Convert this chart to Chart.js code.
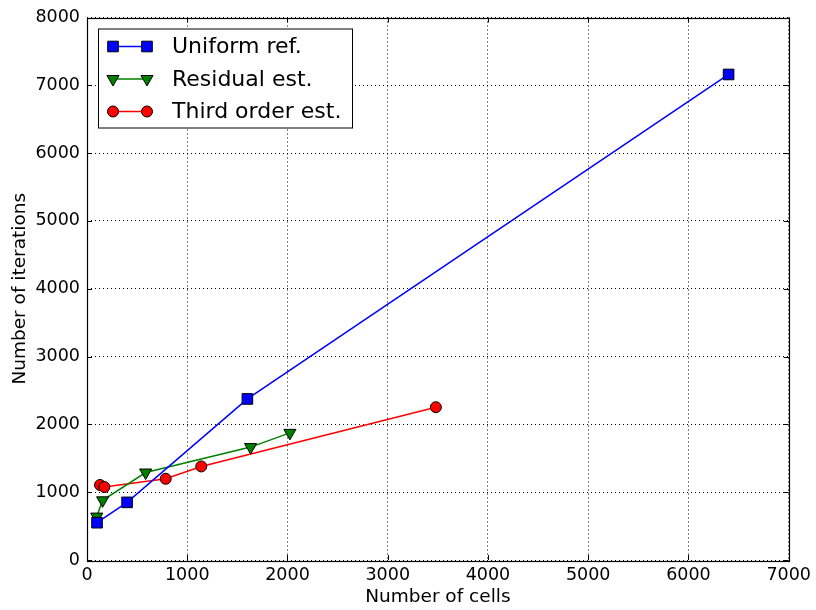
<!DOCTYPE html>
<html>
<head>
<meta charset="utf-8">
<script src="https://cdn.jsdelivr.net/npm/chart.js@4/dist/chart.umd.min.js"></script>
<style>
  html, body { margin: 0; padding: 0; background: #ffffff; }
  #wrap { width: 816px; height: 610px; }
</style>
</head>
<body>
<div id="wrap"><canvas id="c" width="816" height="610"></canvas></div>
<script>
// Iteration counts versus mesh size for three refinement strategies
const uniformCells  = [100, 400, 1600, 6400];
const uniformIters  = [550, 850, 2375, 7160];

const residualCells = [97, 156, 585, 1632, 2024];
const residualIters = [640, 880, 1290, 1665, 1875];

const thirdCells    = [130, 173, 785, 1140, 3480];
const thirdIters    = [1106, 1076, 1198, 1380, 2253];

const seriesNames = ['Uniform ref.', 'Residual est.', 'Third order est.'];
const xTickValues = [0, 1000, 2000, 3000, 4000, 5000, 6000, 7000];
const yTickValues = [0, 1000, 2000, 3000, 4000, 5000, 6000, 7000, 8000];

const toPoints = (xs, ys) => xs.map((x, i) => ({ x: x, y: ys[i] }));

const FONT = 'DejaVu Sans';

// Inward tick marks on all four sides plus the black frame
const framePlugin = {
  id: 'frame',
  afterDatasetsDraw(chart) {
    const { ctx, chartArea: a, scales } = chart;
    const len = 5;
    ctx.save();
    ctx.strokeStyle = '#000';
    ctx.lineWidth = 1;
    ctx.beginPath();
    xTickValues.forEach(v => {
      const px = Math.round(scales.x.getPixelForValue(v)) + 0.5;
      ctx.moveTo(px, a.bottom); ctx.lineTo(px, a.bottom - len);
      ctx.moveTo(px, a.top); ctx.lineTo(px, a.top + len);
    });
    yTickValues.forEach(v => {
      const py = Math.round(scales.y.getPixelForValue(v)) + 0.5;
      ctx.moveTo(a.left, py); ctx.lineTo(a.left + len, py);
      ctx.moveTo(a.right, py); ctx.lineTo(a.right - len, py);
    });
    ctx.stroke();
    ctx.lineWidth = 1.2;
    ctx.strokeRect(Math.round(a.left) + 0.5, Math.round(a.top) + 0.5,
                   Math.round(a.right - a.left), Math.round(a.bottom - a.top));
    ctx.restore();
  }
};

// Legend with a line sample and a marker at each end
const legendPlugin = {
  id: 'lineLegend',
  afterDraw(chart) {
    const { ctx, chartArea: a } = chart;
    const bx = a.left + 11, by = a.top + 11, bw = 254, bh = 99;
    ctx.save();
    ctx.fillStyle = '#fff';
    ctx.fillRect(bx, by, bw, bh);
    ctx.strokeStyle = '#000';
    ctx.lineWidth = 1;
    ctx.strokeRect(bx + 0.5, by + 0.5, bw, bh);
    chart.data.datasets.forEach((ds, i) => {
      const y = by + 18 + i * 32.5;
      const x1 = bx + 15, x2 = bx + 49;
      ctx.strokeStyle = ds.borderColor;
      ctx.lineWidth = ds.borderWidth;
      ctx.beginPath(); ctx.moveTo(x1, y); ctx.lineTo(x2, y); ctx.stroke();
      const opts = { pointStyle: ds.pointStyle, rotation: ds.pointRotation || 0,
                     radius: ds.pointRadius, borderWidth: ds.pointBorderWidth };
      ctx.fillStyle = ds.pointBackgroundColor;
      ctx.strokeStyle = ds.pointBorderColor;
      ctx.lineWidth = ds.pointBorderWidth;
      Chart.helpers.drawPoint(ctx, opts, x1, y);
      Chart.helpers.drawPoint(ctx, opts, x2, y);
      ctx.fillStyle = '#000';
      ctx.font = '22px "' + FONT + '"';
      ctx.textBaseline = 'middle';
      ctx.textAlign = 'left';
      ctx.fillText(ds.label, bx + 74, y + 1);
    });
    ctx.restore();
  }
};

new Chart(document.getElementById('c'), {
  type: 'line',
  data: {
    datasets: [
      {
        label: seriesNames[0],
        data: toPoints(uniformCells, uniformIters),
        borderColor: '#0000ff', borderWidth: 1.5,
        pointStyle: 'rect', pointRadius: 7.5, pointHoverRadius: 7.5,
        pointBackgroundColor: '#0000ff', pointBorderColor: '#000', pointBorderWidth: 1,
        clip: false
      },
      {
        label: seriesNames[1],
        data: toPoints(residualCells, residualIters),
        borderColor: '#008000', borderWidth: 1.5,
        pointStyle: 'triangle', pointRotation: 180, pointRadius: 7, pointHoverRadius: 7,
        pointBackgroundColor: '#008000', pointBorderColor: '#000', pointBorderWidth: 1,
        clip: false
      },
      {
        label: seriesNames[2],
        data: toPoints(thirdCells, thirdIters),
        borderColor: '#ff0000', borderWidth: 1.5,
        pointStyle: 'circle', pointRadius: 5.5, pointHoverRadius: 5.5,
        pointBackgroundColor: '#ff0000', pointBorderColor: '#000', pointBorderWidth: 1,
        clip: false
      }
    ]
  },
  options: {
    responsive: false,
    devicePixelRatio: 1,
    animation: false,
    layout: { padding: { top: 16, right: 27, bottom: 0, left: 0 } },
    plugins: { legend: { display: false }, tooltip: { enabled: false } },
    elements: { line: { tension: 0 } },
    scales: {
      x: {
        type: 'linear', min: 0, max: 7000,
        afterBuildTicks: s => { s.ticks = xTickValues.map(v => ({ value: v })); },
        afterFit: s => { s.height = 50; },
        ticks: { callback: v => String(v), color: '#000', padding: 5, maxRotation: 0,
                 font: { family: FONT, size: 17.5 } },
        grid: { color: '#000', lineWidth: 1, drawTicks: false },
        border: { display: false, dash: [1, 3] },
        title: { display: true, text: 'Number of cells', color: '#000',
                 font: { family: FONT, size: 18.5 }, padding: { top: 0, bottom: 2 } }
      },
      y: {
        type: 'linear', min: 0, max: 8000,
        afterBuildTicks: s => { s.ticks = yTickValues.map(v => ({ value: v })); },
        afterFit: s => { s.width = 87; },
        ticks: { callback: v => String(v), color: '#000', padding: 7,
                 font: { family: FONT, size: 17.5 } },
        grid: { color: '#000', lineWidth: 1, drawTicks: false },
        border: { display: false, dash: [1, 3] },
        title: { display: true, text: 'Number of iterations', color: '#000',
                 font: { family: FONT, size: 18.5 }, padding: { top: 9, bottom: 0 } }
      }
    }
  },
  plugins: [framePlugin, legendPlugin]
});
</script>
</body>
</html>
